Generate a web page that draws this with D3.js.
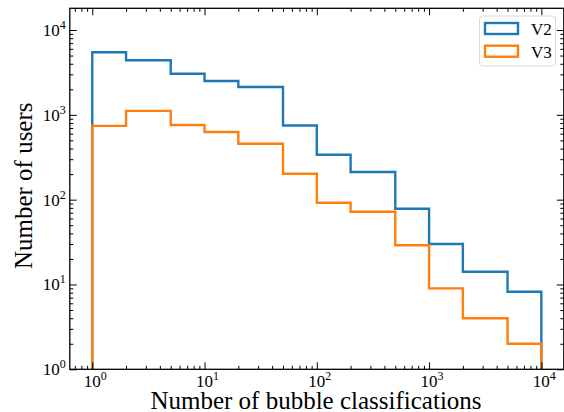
<!DOCTYPE html>
<html>
<head>
<meta charset="utf-8">
<script src="https://cdn.jsdelivr.net/npm/d3@7"></script>
<style>
  body { margin: 0; background: #fff; }
  text { font-family: "Liberation Serif", "DejaVu Serif", serif; fill: #000; }
</style>
</head>
<body>
<div id="chart"></div>
<script>
// bin edges and counts per bin
const binEdges = [1, 2, 5, 10, 20, 50, 100, 200, 500, 1000, 2000, 5000, 10000]
const v2Counts = [5470, 4400, 3050, 2510, 2130, 748, 338, 212, 78, 30, 14.1, 8.2]
const v3Counts = [742, 1115, 760, 627, 456, 202, 92, 72, 29, 9.0, 4.0, 2.0]
const seriesNames = ["V2", "V3"]
const seriesColors = ["#1f77b4", "#ff7f0e"]
const decades = [1, 10, 100, 1000, 10000]

const width = 564
const height = 412
const mLeft = 69.8, mRight = 563.8, mTop = 8.3, mBottom = 369.3

const svg = d3.select("#chart").append("svg")
  .attr("width", width)
  .attr("height", height)

const x = d3.scaleLog().domain([Math.pow(10, -0.2), Math.pow(10, 4.2)]).range([mLeft, mRight])
const y = d3.scaleLog().domain([1, Math.pow(10, 4.256)]).range([mBottom, mTop])

// minor ticks: 2..9 times each decade inside the domain
const minorTicks = (scale) => {
  const [lo, hi] = scale.domain()
  const out = []
  for (let e = -1; e <= 4; e++) {
    for (let m = 2; m <= 9; m++) {
      const v = m * Math.pow(10, e)
      if (v >= lo && v <= hi) out.push(v)
    }
  }
  return out
}

const plot = svg.append("g")
svg.append("clipPath").attr("id", "clip")
  .append("rect").attr("x", mLeft).attr("y", mTop)
  .attr("width", mRight - mLeft).attr("height", mBottom - mTop)

// step outline like matplotlib histtype='step'
const stepPoints = (counts) => {
  const yMin = y.domain()[0] * 0.01
  const pts = [[binEdges[0], yMin]]
  counts.forEach((c, i) => {
    pts.push([binEdges[i], c])
    pts.push([binEdges[i + 1], c])
  })
  pts.push([binEdges[binEdges.length - 1], yMin])
  return pts
}

const line = d3.line()
  .x(d => x(d[0]))
  .y(d => Math.min(y(d[1]), mBottom + 5))

;[v2Counts, v3Counts].forEach((counts, i) => {
  plot.append("path")
    .attr("clip-path", "url(#clip)")
    .attr("d", line(stepPoints(counts)))
    .attr("fill", "none")
    .attr("stroke", seriesColors[i])
    .attr("stroke-width", 2.4)
    .attr("stroke-linejoin", "miter")
})

// ticks pointing inward on all four sides
const axes = svg.append("g")
const addTicks = (axisFn, scale, pos, vals, size) => {
  const g = axes.append("g")
    .attr("transform", pos)
    .call(axisFn(scale).tickValues(vals).tickSize(size).tickFormat(""))
  g.select(".domain").remove()
  g.selectAll("line").attr("stroke", "#000").attr("stroke-width", 1)
}
addTicks(d3.axisBottom, x, `translate(0,${mBottom})`, decades, -7)
addTicks(d3.axisBottom, x, `translate(0,${mBottom})`, minorTicks(x), -3.5)
addTicks(d3.axisTop, x, `translate(0,${mTop})`, decades, -7)
addTicks(d3.axisTop, x, `translate(0,${mTop})`, minorTicks(x), -3.5)
addTicks(d3.axisLeft, y, `translate(${mLeft},0)`, decades, -7)
addTicks(d3.axisLeft, y, `translate(${mLeft},0)`, minorTicks(y), -3.5)
addTicks(d3.axisRight, y, `translate(${mRight},0)`, decades, -7)
addTicks(d3.axisRight, y, `translate(${mRight},0)`, minorTicks(y), -3.5)

svg.append("rect")
  .attr("x", mLeft).attr("y", mTop)
  .attr("width", mRight - mLeft).attr("height", mBottom - mTop)
  .attr("fill", "none").attr("stroke", "#000").attr("stroke-width", 1.3)

// tick labels as 10 with superscript exponent
const powLabel = (g, v) => {
  g.append("tspan").text("10")
  g.append("tspan").attr("dy", -7).attr("font-size", 12).text(Math.round(Math.log10(v)))
}
decades.forEach(v => {
  const t = svg.append("text")
    .attr("x", x(v) + 3).attr("y", mBottom + 18)
    .attr("text-anchor", "middle").attr("font-size", 17)
  powLabel(t, v)
})
decades.forEach(v => {
  const t = svg.append("text")
    .attr("x", mLeft - 4).attr("y", y(v) + 6)
    .attr("text-anchor", "end").attr("font-size", 17)
  powLabel(t, v)
})

svg.append("text")
  .attr("x", 316).attr("y", 409)
  .attr("text-anchor", "middle").attr("font-size", 25)
  .text("Number of bubble classifications")

svg.append("text")
  .attr("transform", `translate(32,${(mTop + mBottom) / 2 - 3}) rotate(-90)`)
  .attr("text-anchor", "middle").attr("font-size", 25)
  .text("Number of users")

// legend
const legend = svg.append("g")
legend.append("rect")
  .attr("x", 479.5).attr("y", 16).attr("width", 76).attr("height", 50)
  .attr("rx", 3).attr("fill", "#fff").attr("fill-opacity", 0.8)
  .attr("stroke", "#d9d9d9").attr("stroke-width", 1)
seriesNames.forEach((name, i) => {
  legend.append("rect")
    .attr("x", 485).attr("y", 23 + i * 22.7)
    .attr("width", 33).attr("height", 11)
    .attr("fill", "none").attr("stroke", seriesColors[i]).attr("stroke-width", 2.4)
  legend.append("text")
    .attr("x", 531).attr("y", 35 + i * 22.7)
    .attr("font-size", 17)
    .text(name)
})
</script>
</body>
</html>
